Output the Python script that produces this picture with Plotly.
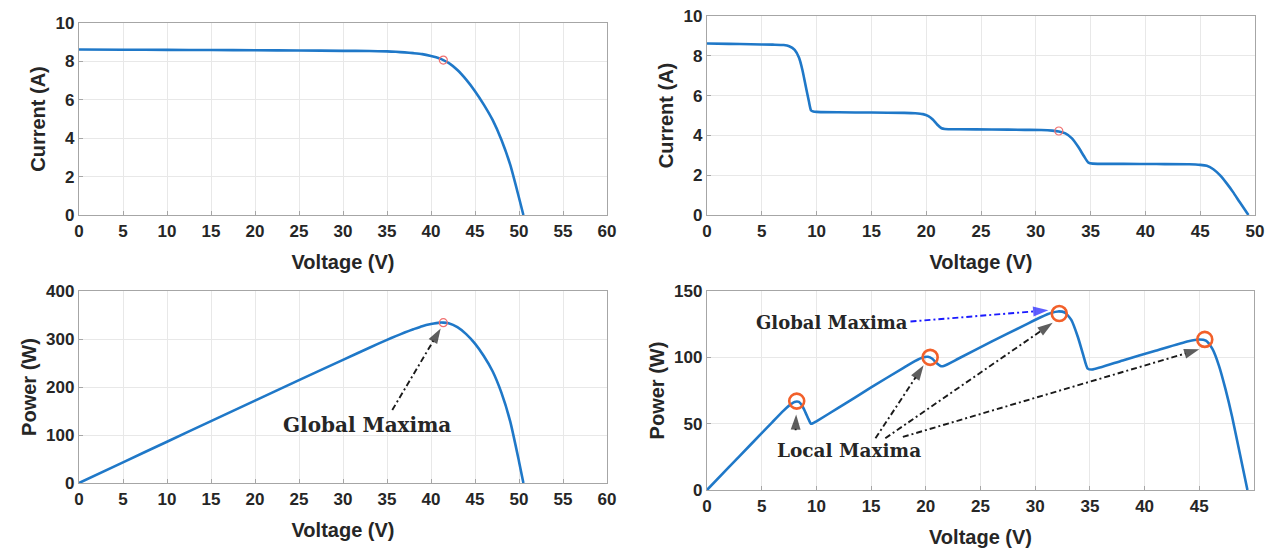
import plotly.graph_objects as go

# ---------------- data ----------------
# Uniform irradiance: I-V and P-V
v_uni = [0, 5, 10, 15, 20, 25, 30, 33, 35, 36, 37, 38, 39, 40, 41, 41.4, 42, 43,
         44, 45, 46, 47, 48, 49, 50, 50.5]
i_uni = [8.62, 8.61, 8.60, 8.59, 8.58, 8.57, 8.55, 8.54, 8.52, 8.50, 8.47, 8.43,
         8.38, 8.28, 8.15, 8.07, 7.92, 7.55, 7.05, 6.45, 5.75, 4.95, 3.92, 2.62, 0.90, 0.0]
p_uni = [0, 43.1, 86.0, 128.9, 171.6, 214.3, 256.5, 281.8, 298.2, 306.0, 313.4, 320.3,
         326.8, 331.2, 334.2, 334.1, 332.6, 324.7, 310.2, 290.3, 264.5, 232.7, 188.2,
         128.4, 45.0, 0.0]
mpp_uni_v = [41.4]
mpp_uni_i = [8.07]
mpp_uni_p = [334]

# Partial shading: I-V and P-V
v_ps = [0, 2, 4, 6, 7, 7.5, 8, 8.4, 8.7, 9.0, 9.3, 9.5, 9.7, 10, 12, 15, 18, 19, 19.7,
        20.2, 20.6, 21, 21.4, 21.7, 23, 26, 29, 30.5, 31.5, 32.1, 32.7, 33.3, 33.9,
        34.4, 34.8, 35.2, 38, 41, 44, 45, 45.6, 46.2, 46.8, 47.4, 48, 48.6, 49.4]
i_ps = [8.62, 8.60, 8.58, 8.56, 8.54, 8.48, 8.30, 7.90, 7.30, 6.50, 5.70, 5.25, 5.20,
        5.18, 5.16, 5.15, 5.13, 5.11, 5.07, 4.97, 4.80, 4.55, 4.36, 4.32, 4.31, 4.30,
        4.28, 4.27, 4.24, 4.20, 4.10, 3.85, 3.40, 2.95, 2.63, 2.58, 2.57, 2.56, 2.55,
        2.52, 2.47, 2.30, 2.00, 1.60, 1.15, 0.65, 0.0]
p_ps = [0, 17.2, 34.3, 51.4, 59.8, 63.6, 66.4, 66.4, 63.5, 58.5, 53.0, 49.9, 50.4,
        51.8, 61.9, 77.3, 92.3, 97.1, 99.9, 100.4, 98.9, 95.6, 93.3, 93.7, 99.1, 111.8,
        124.1, 130.2, 133.6, 134.6, 133.8, 128.2, 115.3, 101.5, 91.5, 90.8, 97.7, 105.0,
        112.2, 113.4, 112.6, 106.3, 93.6, 75.8, 55.2, 31.6, 0.0]
mpp_ps_v = [32.1]
mpp_ps_i = [4.22]
peaks_v = [8.2, 20.4, 32.2, 45.5]
peaks_p = [67, 100, 133, 113.5]

# Axis ticks
ticks_60 = [0, 5, 10, 15, 20, 25, 30, 35, 40, 45, 50, 55, 60]
ticks_50 = [0, 5, 10, 15, 20, 25, 30, 35, 40, 45, 50]
ticks_45 = [0, 5, 10, 15, 20, 25, 30, 35, 40, 45]
ticks_i = [0, 2, 4, 6, 8, 10]
ticks_p400 = [0, 100, 200, 300, 400]
ticks_p150 = [0, 50, 100, 150]

# Annotation texts / anchor points (data units)
txt_gm_bl = ("Global Maxima", 32.7, 121)
arrow_gm_bl = ([35.6, 41.1], [152, 322])
txt_gm_br = ("Global Maxima", 11.4, 126)
arrow_gm_br = ([18.6, 31.2], [127, 135.5])
txt_lm_br = ("Local Maxima", 12.95, 30)
arrows_lm_br = [([8.1, 8.15], [45, 57]),
                ([15.4, 19.8], [39, 94]),
                ([16.3, 31.6], [39, 126]),
                ([17.9, 45.0], [40, 106])]

# ---------------- styling ----------------
BLUE = "#1f78c8"
TICKFONT = dict(family="Liberation Sans", size=17, color="#262626", weight="bold")
TITLEFONT = dict(family="Liberation Sans", size=20, color="#262626", weight="bold")

fig = go.Figure()

def curve(x, y, xa, ya):
    fig.add_trace(go.Scatter(x=x, y=y, xaxis=xa, yaxis=ya, mode="lines",
                             line=dict(color=BLUE, width=2.6, shape="spline", smoothing=0.6),
                             hoverinfo="skip", showlegend=False))

def marker(x, y, xa, ya, size, color, width):
    fig.add_trace(go.Scatter(x=x, y=y, xaxis=xa, yaxis=ya, mode="markers",
                             marker=dict(symbol="circle-open", size=size,
                                         line=dict(color=color, width=width), color=color),
                             hoverinfo="skip", showlegend=False))

def arrow(xs, ys, xa, ya, color):
    fig.add_trace(go.Scatter(x=xs, y=ys, xaxis=xa, yaxis=ya, mode="lines+markers",
                             line=dict(color=color, width=1.9, dash="6px,3px,2px,3px"),
                             marker=dict(symbol="arrow", size=[0, 16], angleref="previous",
                                         color=color, line=dict(width=0)),
                             hoverinfo="skip", showlegend=False))

curve(v_uni, i_uni, "x", "y")
marker(mpp_uni_v, mpp_uni_i, "x", "y", 8, "#f07070", 1.2)
curve(v_ps, i_ps, "x2", "y2")
marker(mpp_ps_v, mpp_ps_i, "x2", "y2", 8, "#f07070", 1.2)
curve(v_uni, p_uni, "x3", "y3")
marker(mpp_uni_v, mpp_uni_p, "x3", "y3", 8, "#f07070", 1.2)
curve(v_ps, p_ps, "x4", "y4")
marker(peaks_v, peaks_p, "x4", "y4", 15, "#f2602a", 2.6)

arrow(arrow_gm_bl[0], arrow_gm_bl[1], "x3", "y3", "#1a1a1a")
arrow(arrow_gm_br[0], arrow_gm_br[1], "x4", "y4", "#1a1aff")
for xs, ys in arrows_lm_br:
    arrow(xs, ys, "x4", "y4", "#1a1a1a")

def ann(t, xa, ya, size):
    fig.add_annotation(text=t[0], x=t[1], y=t[2], xref=xa, yref=ya, showarrow=False,
                       font=dict(family="DejaVu Serif", size=size, color="#262626",
                                 weight="bold"))

ann(txt_gm_bl, "x3", "y3", 20)
ann(txt_gm_br, "x4", "y4", 18)
ann(txt_lm_br, "x4", "y4", 18.5)

def xaxis(dom, rng, ticks, anchor):
    return dict(domain=dom, range=rng, tickvals=ticks, ticktext=[str(t) for t in ticks],
                anchor=anchor, showgrid=True, gridcolor="#e8e8e8", gridwidth=1,
                zeroline=False, showline=True, linecolor="#a6a6a6", linewidth=1.3,
                mirror=True, ticks="inside", ticklen=4, tickcolor="#a6a6a6",
                automargin=False, tickfont=TICKFONT, ticklabeloverflow="allow",
                title=dict(text="Voltage (V)", font=TITLEFONT, standoff=15))

def yaxis(dom, rng, ticks, anchor, title):
    return dict(domain=dom, range=rng, tickvals=ticks, ticktext=[str(t) for t in ticks],
                anchor=anchor, showgrid=True, gridcolor="#e8e8e8", gridwidth=1,
                zeroline=False, showline=True, linecolor="#a6a6a6", linewidth=1.3,
                mirror=True, ticks="inside", ticklen=4, tickcolor="#a6a6a6",
                automargin=False, tickfont=TICKFONT, ticklabeloverflow="allow",
                title=dict(text=title, font=TITLEFONT, standoff=4))

# page body has an 8px offset; figure laid out in page pixels
W, H, OFF = 1269, 542, 8

def xd(a, b):
    return [(a - OFF) / W, (b - OFF) / W]

def yd(top, bottom):
    return [1 - (bottom - OFF) / H, 1 - (top - OFF) / H]

fig.update_layout(
    width=W, height=H,
    margin=dict(l=0, r=0, t=0, b=0, autoexpand=False),
    paper_bgcolor="white", plot_bgcolor="white",
    showlegend=False,
    xaxis=xaxis(xd(79, 607), [0, 60], ticks_60, "y"),
    yaxis=yaxis(yd(23, 215), [0, 10], ticks_i, "x", "Current (A)"),
    xaxis2=xaxis(xd(707, 1255), [0, 50], ticks_50, "y2"),
    yaxis2=yaxis(yd(16, 215), [0, 10], ticks_i, "x2", "Current (A)"),
    xaxis3=xaxis(xd(79, 607), [0, 60], ticks_60, "y3"),
    yaxis3=yaxis(yd(291, 483), [0, 400], ticks_p400, "x3", "Power (W)"),
    xaxis4=xaxis(xd(707, 1254), [0, 50], ticks_45, "y4"),
    yaxis4=yaxis(yd(291, 490), [0, 150], ticks_p150, "x4", "Power (W)"),
)

fig.write_html("out.html")
